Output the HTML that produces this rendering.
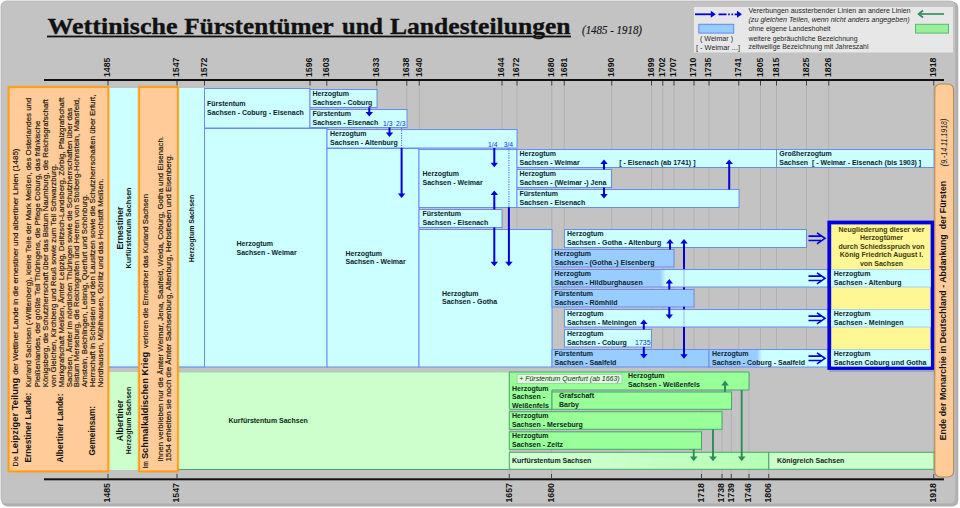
<!DOCTYPE html><html><head><meta charset="utf-8"><title>Wettinische Fürstentümer und Landesteilungen</title>
<style>html,body{margin:0;padding:0;background:#fff;}svg{display:block}text{white-space:pre}</style></head><body>
<svg width="960" height="508" viewBox="0 0 960 508">
<defs>
<filter id="glow" x="-10%" y="-10%" width="120%" height="120%"><feGaussianBlur stdDeviation="1.2"/></filter>
<linearGradient id="gH" x1="0" x2="1"><stop offset="0" stop-color="#99ccff"/><stop offset="1" stop-color="#ccffff"/></linearGradient>
<linearGradient id="gK" x1="0" x2="1"><stop offset="0" stop-color="#d6ffd6"/><stop offset="1" stop-color="#b4ffb4"/></linearGradient>
</defs>
<rect x="0" y="0" width="960.00" height="508.00" fill="#fff" />
<rect x="1.5" y="1.5" width="956.8" height="505" rx="6" fill="#b0b0b0"/>
<rect x="1" y="1" width="954.5" height="502.7" rx="5.5" fill="#c3c3c3" stroke="#b4b4b4" stroke-width="0.8"/>
<text x="47.5" y="33.8" font-size="24" font-weight="bold" font-style="normal" fill="#111" text-anchor="start" font-family="'Liberation Serif', sans-serif" textLength="130" lengthAdjust="spacingAndGlyphs" stroke="#111" stroke-width="0.35">Wettinische</text>
<text x="184.3" y="33.8" font-size="24" font-weight="bold" font-style="normal" fill="#111" text-anchor="start" font-family="'Liberation Serif', sans-serif" textLength="149.5" lengthAdjust="spacingAndGlyphs" stroke="#111" stroke-width="0.35">Fürstentümer</text>
<text x="342" y="33.8" font-size="24" font-weight="bold" font-style="normal" fill="#111" text-anchor="start" font-family="'Liberation Serif', sans-serif" textLength="41" lengthAdjust="spacingAndGlyphs" stroke="#111" stroke-width="0.35">und</text>
<text x="390" y="33.8" font-size="24" font-weight="bold" font-style="normal" fill="#111" text-anchor="start" font-family="'Liberation Serif', sans-serif" textLength="180.5" lengthAdjust="spacingAndGlyphs" stroke="#111" stroke-width="0.35">Landesteilungen</text>
<rect x="47" y="35.6" width="524.00" height="1.80" fill="#111" />
<text x="582" y="34" font-size="11.8" font-weight="normal" font-style="italic" fill="#1a1a1a" text-anchor="start" font-family="'Liberation Serif', sans-serif" textLength="60" lengthAdjust="spacingAndGlyphs" stroke="#1a1a1a" stroke-width="0.2">(1485 - 1918)</text>
<rect x="694" y="7" width="259.00" height="45.50" fill="#e7e7e7" />
<line x1="695" y1="14.3" x2="712" y2="14.3" stroke="#0000dd" stroke-width="1.8" />
<path d="M710.8,10.8 L715.8,14.3 L710.8,17.8 Z" fill="#0000dd"/>
<path d="M718.5,14.3 H726.5 M728.2,14.3 H729.8 M731.5,14.3 H733.1 M734.6,14.3 H738" stroke="#0000dd" stroke-width="1.8" fill="none"/>
<path d="M737,10.8 L742,14.3 L737,17.8 Z" fill="#0000dd"/>
<line x1="920" y1="14" x2="944" y2="14" stroke="#2e8b57" stroke-width="1.6" />
<path d="M923,10.5 L918.5,14 L923,17.5" fill="none" stroke="#2e8b57" stroke-width="1.6"/>
<rect x="698.8" y="24.3" width="34.90" height="8.80" fill="#99ccff" stroke="#5b8cf0" stroke-width="1" />
<rect x="915.5" y="24.3" width="33.00" height="8.80" fill="#99ee99" stroke="#55bb77" stroke-width="1" />
<text x="748.5" y="13.2" font-size="7.4" font-weight="normal" font-style="normal" fill="#262626" text-anchor="start" font-family="'Liberation Sans', sans-serif" textLength="162" lengthAdjust="spacingAndGlyphs" >Vererbungen aussterbender Linien an andere Linien</text>
<text x="748.5" y="22" font-size="7.4" font-weight="normal" font-style="italic" fill="#262626" text-anchor="start" font-family="'Liberation Sans', sans-serif" textLength="161" lengthAdjust="spacingAndGlyphs" >(zu gleichen Teilen, wenn nicht anders angegeben)</text>
<text x="748.5" y="31.3" font-size="7.4" font-weight="normal" font-style="normal" fill="#262626" text-anchor="start" font-family="'Liberation Sans', sans-serif" textLength="82" lengthAdjust="spacingAndGlyphs" >ohne eigene Landeshoheit</text>
<text x="748.5" y="41" font-size="7.4" font-weight="normal" font-style="normal" fill="#262626" text-anchor="start" font-family="'Liberation Sans', sans-serif" textLength="109" lengthAdjust="spacingAndGlyphs" >weitere gebräuchliche Bezeichnung</text>
<text x="748.5" y="49.1" font-size="7.4" font-weight="normal" font-style="normal" fill="#262626" text-anchor="start" font-family="'Liberation Sans', sans-serif" textLength="120" lengthAdjust="spacingAndGlyphs" >zeitweilige Bezeichnung mit Jahreszahl</text>
<text x="700" y="41" font-size="7.4" font-weight="normal" font-style="normal" fill="#262626" text-anchor="start" font-family="'Liberation Sans', sans-serif" textLength="33" lengthAdjust="spacingAndGlyphs" >( Weimar )</text>
<text x="696" y="49.5" font-size="7.4" font-weight="normal" font-style="normal" fill="#262626" text-anchor="start" font-family="'Liberation Sans', sans-serif" textLength="44" lengthAdjust="spacingAndGlyphs" >[ - Weimar ...]</text>
<line x1="108" y1="81" x2="108" y2="367.5" stroke="#b1b1b1" stroke-width="1" />
<line x1="177" y1="81" x2="177" y2="367.5" stroke="#b1b1b1" stroke-width="1" />
<line x1="204.5" y1="81" x2="204.5" y2="367.5" stroke="#b1b1b1" stroke-width="1" />
<line x1="310" y1="81" x2="310" y2="367.5" stroke="#b1b1b1" stroke-width="1" />
<line x1="326.75" y1="81" x2="326.75" y2="367.5" stroke="#b1b1b1" stroke-width="1" />
<line x1="376.75" y1="81" x2="376.75" y2="367.5" stroke="#b1b1b1" stroke-width="1" />
<line x1="406.75" y1="81" x2="406.75" y2="367.5" stroke="#b1b1b1" stroke-width="1" />
<line x1="419.25" y1="81" x2="419.25" y2="367.5" stroke="#b1b1b1" stroke-width="1" />
<line x1="502" y1="81" x2="502" y2="367.5" stroke="#b1b1b1" stroke-width="1" />
<line x1="517" y1="81" x2="517" y2="367.5" stroke="#b1b1b1" stroke-width="1" />
<line x1="551.75" y1="81" x2="551.75" y2="367.5" stroke="#b1b1b1" stroke-width="1" />
<line x1="564.25" y1="81" x2="564.25" y2="367.5" stroke="#b1b1b1" stroke-width="1" />
<line x1="611.75" y1="81" x2="611.75" y2="367.5" stroke="#b1b1b1" stroke-width="1" />
<line x1="651.5" y1="81" x2="651.5" y2="367.5" stroke="#b1b1b1" stroke-width="1" />
<line x1="662.75" y1="81" x2="662.75" y2="367.5" stroke="#b1b1b1" stroke-width="1" />
<line x1="674" y1="81" x2="674" y2="367.5" stroke="#b1b1b1" stroke-width="1" />
<line x1="694" y1="81" x2="694" y2="367.5" stroke="#b1b1b1" stroke-width="1" />
<line x1="709" y1="81" x2="709" y2="367.5" stroke="#b1b1b1" stroke-width="1" />
<line x1="738.75" y1="81" x2="738.75" y2="367.5" stroke="#b1b1b1" stroke-width="1" />
<line x1="760.5" y1="81" x2="760.5" y2="367.5" stroke="#b1b1b1" stroke-width="1" />
<line x1="776.5" y1="81" x2="776.5" y2="367.5" stroke="#b1b1b1" stroke-width="1" />
<line x1="806.5" y1="81" x2="806.5" y2="367.5" stroke="#b1b1b1" stroke-width="1" />
<line x1="828.75" y1="81" x2="828.75" y2="367.5" stroke="#b1b1b1" stroke-width="1" />
<line x1="933.75" y1="81" x2="933.75" y2="367.5" stroke="#b1b1b1" stroke-width="1" />
<line x1="108" y1="372" x2="108" y2="478" stroke="#b1b1b1" stroke-width="1" />
<line x1="177" y1="372" x2="177" y2="478" stroke="#b1b1b1" stroke-width="1" />
<line x1="509.25" y1="372" x2="509.25" y2="478" stroke="#b1b1b1" stroke-width="1" />
<line x1="551.5" y1="372" x2="551.5" y2="478" stroke="#b1b1b1" stroke-width="1" />
<line x1="701.5" y1="372" x2="701.5" y2="478" stroke="#b1b1b1" stroke-width="1" />
<line x1="722" y1="372" x2="722" y2="478" stroke="#b1b1b1" stroke-width="1" />
<line x1="731.25" y1="372" x2="731.25" y2="478" stroke="#b1b1b1" stroke-width="1" />
<line x1="749" y1="372" x2="749" y2="478" stroke="#b1b1b1" stroke-width="1" />
<line x1="768.75" y1="452" x2="768.75" y2="478" stroke="#b1b1b1" stroke-width="1" />
<line x1="933.75" y1="372" x2="933.75" y2="478" stroke="#b1b1b1" stroke-width="1" />
<rect x="44" y="79" width="900.00" height="2.00" fill="#111" />
<rect x="44" y="478.3" width="900.00" height="2.00" fill="#111" />
<line x1="108" y1="81" x2="108" y2="85.5" stroke="#444" stroke-width="1" />
<text transform="translate(110.37,77) rotate(-90)" font-size="8.8" font-weight="bold" font-style="normal" fill="#111" text-anchor="start" font-family="'Liberation Sans', sans-serif" textLength="19.5" lengthAdjust="spacingAndGlyphs">1485</text>
<line x1="177" y1="81" x2="177" y2="85.5" stroke="#444" stroke-width="1" />
<text transform="translate(179.37,77) rotate(-90)" font-size="8.8" font-weight="bold" font-style="normal" fill="#111" text-anchor="start" font-family="'Liberation Sans', sans-serif" textLength="19.5" lengthAdjust="spacingAndGlyphs">1547</text>
<line x1="204.5" y1="81" x2="204.5" y2="85.5" stroke="#444" stroke-width="1" />
<text transform="translate(206.87,77) rotate(-90)" font-size="8.8" font-weight="bold" font-style="normal" fill="#111" text-anchor="start" font-family="'Liberation Sans', sans-serif" textLength="19.5" lengthAdjust="spacingAndGlyphs">1572</text>
<line x1="310" y1="81" x2="310" y2="85.5" stroke="#444" stroke-width="1" />
<text transform="translate(312.37,77) rotate(-90)" font-size="8.8" font-weight="bold" font-style="normal" fill="#111" text-anchor="start" font-family="'Liberation Sans', sans-serif" textLength="19.5" lengthAdjust="spacingAndGlyphs">1596</text>
<line x1="326.75" y1="81" x2="326.75" y2="85.5" stroke="#444" stroke-width="1" />
<text transform="translate(329.12,77) rotate(-90)" font-size="8.8" font-weight="bold" font-style="normal" fill="#111" text-anchor="start" font-family="'Liberation Sans', sans-serif" textLength="19.5" lengthAdjust="spacingAndGlyphs">1603</text>
<line x1="376.75" y1="81" x2="376.75" y2="85.5" stroke="#444" stroke-width="1" />
<text transform="translate(379.12,77) rotate(-90)" font-size="8.8" font-weight="bold" font-style="normal" fill="#111" text-anchor="start" font-family="'Liberation Sans', sans-serif" textLength="19.5" lengthAdjust="spacingAndGlyphs">1633</text>
<line x1="406.75" y1="81" x2="406.75" y2="85.5" stroke="#444" stroke-width="1" />
<text transform="translate(409.12,77) rotate(-90)" font-size="8.8" font-weight="bold" font-style="normal" fill="#111" text-anchor="start" font-family="'Liberation Sans', sans-serif" textLength="19.5" lengthAdjust="spacingAndGlyphs">1638</text>
<line x1="419.25" y1="81" x2="419.25" y2="85.5" stroke="#444" stroke-width="1" />
<text transform="translate(421.62,77) rotate(-90)" font-size="8.8" font-weight="bold" font-style="normal" fill="#111" text-anchor="start" font-family="'Liberation Sans', sans-serif" textLength="19.5" lengthAdjust="spacingAndGlyphs">1640</text>
<line x1="502" y1="81" x2="502" y2="85.5" stroke="#444" stroke-width="1" />
<text transform="translate(504.37,77) rotate(-90)" font-size="8.8" font-weight="bold" font-style="normal" fill="#111" text-anchor="start" font-family="'Liberation Sans', sans-serif" textLength="19.5" lengthAdjust="spacingAndGlyphs">1644</text>
<line x1="517" y1="81" x2="517" y2="85.5" stroke="#444" stroke-width="1" />
<text transform="translate(519.37,77) rotate(-90)" font-size="8.8" font-weight="bold" font-style="normal" fill="#111" text-anchor="start" font-family="'Liberation Sans', sans-serif" textLength="19.5" lengthAdjust="spacingAndGlyphs">1672</text>
<line x1="551.75" y1="81" x2="551.75" y2="85.5" stroke="#444" stroke-width="1" />
<text transform="translate(554.12,77) rotate(-90)" font-size="8.8" font-weight="bold" font-style="normal" fill="#111" text-anchor="start" font-family="'Liberation Sans', sans-serif" textLength="19.5" lengthAdjust="spacingAndGlyphs">1680</text>
<line x1="564.25" y1="81" x2="564.25" y2="85.5" stroke="#444" stroke-width="1" />
<text transform="translate(566.62,77) rotate(-90)" font-size="8.8" font-weight="bold" font-style="normal" fill="#111" text-anchor="start" font-family="'Liberation Sans', sans-serif" textLength="19.5" lengthAdjust="spacingAndGlyphs">1681</text>
<line x1="611.75" y1="81" x2="611.75" y2="85.5" stroke="#444" stroke-width="1" />
<text transform="translate(614.12,77) rotate(-90)" font-size="8.8" font-weight="bold" font-style="normal" fill="#111" text-anchor="start" font-family="'Liberation Sans', sans-serif" textLength="19.5" lengthAdjust="spacingAndGlyphs">1690</text>
<line x1="651.5" y1="81" x2="651.5" y2="85.5" stroke="#444" stroke-width="1" />
<text transform="translate(653.87,77) rotate(-90)" font-size="8.8" font-weight="bold" font-style="normal" fill="#111" text-anchor="start" font-family="'Liberation Sans', sans-serif" textLength="19.5" lengthAdjust="spacingAndGlyphs">1699</text>
<line x1="662.75" y1="81" x2="662.75" y2="85.5" stroke="#444" stroke-width="1" />
<text transform="translate(665.12,77) rotate(-90)" font-size="8.8" font-weight="bold" font-style="normal" fill="#111" text-anchor="start" font-family="'Liberation Sans', sans-serif" textLength="19.5" lengthAdjust="spacingAndGlyphs">1702</text>
<line x1="674" y1="81" x2="674" y2="85.5" stroke="#444" stroke-width="1" />
<text transform="translate(676.37,77) rotate(-90)" font-size="8.8" font-weight="bold" font-style="normal" fill="#111" text-anchor="start" font-family="'Liberation Sans', sans-serif" textLength="19.5" lengthAdjust="spacingAndGlyphs">1707</text>
<line x1="694" y1="81" x2="694" y2="85.5" stroke="#444" stroke-width="1" />
<text transform="translate(696.37,77) rotate(-90)" font-size="8.8" font-weight="bold" font-style="normal" fill="#111" text-anchor="start" font-family="'Liberation Sans', sans-serif" textLength="19.5" lengthAdjust="spacingAndGlyphs">1710</text>
<line x1="709" y1="81" x2="709" y2="85.5" stroke="#444" stroke-width="1" />
<text transform="translate(711.37,77) rotate(-90)" font-size="8.8" font-weight="bold" font-style="normal" fill="#111" text-anchor="start" font-family="'Liberation Sans', sans-serif" textLength="19.5" lengthAdjust="spacingAndGlyphs">1735</text>
<line x1="738.75" y1="81" x2="738.75" y2="85.5" stroke="#444" stroke-width="1" />
<text transform="translate(741.12,77) rotate(-90)" font-size="8.8" font-weight="bold" font-style="normal" fill="#111" text-anchor="start" font-family="'Liberation Sans', sans-serif" textLength="19.5" lengthAdjust="spacingAndGlyphs">1741</text>
<line x1="760.5" y1="81" x2="760.5" y2="85.5" stroke="#444" stroke-width="1" />
<text transform="translate(762.87,77) rotate(-90)" font-size="8.8" font-weight="bold" font-style="normal" fill="#111" text-anchor="start" font-family="'Liberation Sans', sans-serif" textLength="19.5" lengthAdjust="spacingAndGlyphs">1805</text>
<line x1="776.5" y1="81" x2="776.5" y2="85.5" stroke="#444" stroke-width="1" />
<text transform="translate(778.87,77) rotate(-90)" font-size="8.8" font-weight="bold" font-style="normal" fill="#111" text-anchor="start" font-family="'Liberation Sans', sans-serif" textLength="19.5" lengthAdjust="spacingAndGlyphs">1815</text>
<line x1="806.5" y1="81" x2="806.5" y2="85.5" stroke="#444" stroke-width="1" />
<text transform="translate(808.87,77) rotate(-90)" font-size="8.8" font-weight="bold" font-style="normal" fill="#111" text-anchor="start" font-family="'Liberation Sans', sans-serif" textLength="19.5" lengthAdjust="spacingAndGlyphs">1825</text>
<line x1="828.75" y1="81" x2="828.75" y2="85.5" stroke="#444" stroke-width="1" />
<text transform="translate(831.12,77) rotate(-90)" font-size="8.8" font-weight="bold" font-style="normal" fill="#111" text-anchor="start" font-family="'Liberation Sans', sans-serif" textLength="19.5" lengthAdjust="spacingAndGlyphs">1826</text>
<line x1="933.75" y1="81" x2="933.75" y2="85.5" stroke="#444" stroke-width="1" />
<text transform="translate(936.12,77) rotate(-90)" font-size="8.8" font-weight="bold" font-style="normal" fill="#111" text-anchor="start" font-family="'Liberation Sans', sans-serif" textLength="19.5" lengthAdjust="spacingAndGlyphs">1918</text>
<line x1="108" y1="474" x2="108" y2="478.3" stroke="#444" stroke-width="1" />
<text transform="translate(110.37,502.6) rotate(-90)" font-size="8.8" font-weight="bold" font-style="normal" fill="#111" text-anchor="start" font-family="'Liberation Sans', sans-serif" textLength="19.5" lengthAdjust="spacingAndGlyphs">1485</text>
<line x1="177" y1="474" x2="177" y2="478.3" stroke="#444" stroke-width="1" />
<text transform="translate(179.37,502.6) rotate(-90)" font-size="8.8" font-weight="bold" font-style="normal" fill="#111" text-anchor="start" font-family="'Liberation Sans', sans-serif" textLength="19.5" lengthAdjust="spacingAndGlyphs">1547</text>
<line x1="509.25" y1="474" x2="509.25" y2="478.3" stroke="#444" stroke-width="1" />
<text transform="translate(511.62,502.6) rotate(-90)" font-size="8.8" font-weight="bold" font-style="normal" fill="#111" text-anchor="start" font-family="'Liberation Sans', sans-serif" textLength="19.5" lengthAdjust="spacingAndGlyphs">1657</text>
<line x1="551.5" y1="474" x2="551.5" y2="478.3" stroke="#444" stroke-width="1" />
<text transform="translate(553.87,502.6) rotate(-90)" font-size="8.8" font-weight="bold" font-style="normal" fill="#111" text-anchor="start" font-family="'Liberation Sans', sans-serif" textLength="19.5" lengthAdjust="spacingAndGlyphs">1680</text>
<line x1="701.5" y1="474" x2="701.5" y2="478.3" stroke="#444" stroke-width="1" />
<text transform="translate(703.87,502.6) rotate(-90)" font-size="8.8" font-weight="bold" font-style="normal" fill="#111" text-anchor="start" font-family="'Liberation Sans', sans-serif" textLength="19.5" lengthAdjust="spacingAndGlyphs">1718</text>
<line x1="722" y1="474" x2="722" y2="478.3" stroke="#444" stroke-width="1" />
<text transform="translate(724.37,502.6) rotate(-90)" font-size="8.8" font-weight="bold" font-style="normal" fill="#111" text-anchor="start" font-family="'Liberation Sans', sans-serif" textLength="19.5" lengthAdjust="spacingAndGlyphs">1738</text>
<line x1="731.25" y1="474" x2="731.25" y2="478.3" stroke="#444" stroke-width="1" />
<text transform="translate(733.62,502.6) rotate(-90)" font-size="8.8" font-weight="bold" font-style="normal" fill="#111" text-anchor="start" font-family="'Liberation Sans', sans-serif" textLength="19.5" lengthAdjust="spacingAndGlyphs">1739</text>
<line x1="749" y1="474" x2="749" y2="478.3" stroke="#444" stroke-width="1" />
<text transform="translate(751.37,502.6) rotate(-90)" font-size="8.8" font-weight="bold" font-style="normal" fill="#111" text-anchor="start" font-family="'Liberation Sans', sans-serif" textLength="19.5" lengthAdjust="spacingAndGlyphs">1746</text>
<line x1="768.75" y1="474" x2="768.75" y2="478.3" stroke="#444" stroke-width="1" />
<text transform="translate(771.12,502.6) rotate(-90)" font-size="8.8" font-weight="bold" font-style="normal" fill="#111" text-anchor="start" font-family="'Liberation Sans', sans-serif" textLength="19.5" lengthAdjust="spacingAndGlyphs">1806</text>
<line x1="933.75" y1="474" x2="933.75" y2="478.3" stroke="#444" stroke-width="1" />
<text transform="translate(936.12,502.6) rotate(-90)" font-size="8.8" font-weight="bold" font-style="normal" fill="#111" text-anchor="start" font-family="'Liberation Sans', sans-serif" textLength="19.5" lengthAdjust="spacingAndGlyphs">1918</text>
<rect x="108" y="88" width="32.00" height="279.00" fill="#ccffff" />
<line x1="108" y1="367" x2="140" y2="367" stroke="#6a8cf2" stroke-width="1.2" />
<rect x="177" y="88" width="27.50" height="279.00" fill="#ccffff" />
<line x1="177" y1="367" x2="204.5" y2="367" stroke="#6a8cf2" stroke-width="1.2" />
<rect x="204.5" y="88.5" width="105.50" height="39.50" fill="#ccffff" stroke="#6a8cf2" stroke-width="1" />
<text x="207" y="106.3" font-size="7" font-weight="bold" font-style="normal" fill="#0a2530" text-anchor="start" font-family="'Liberation Sans', sans-serif" >Fürstentum</text>
<text x="207" y="114.8" font-size="7" font-weight="bold" font-style="normal" fill="#0a2530" text-anchor="start" font-family="'Liberation Sans', sans-serif" >Sachsen - Coburg - Eisenach</text>
<rect x="310" y="89.5" width="67.00" height="18.00" fill="#ccffff" stroke="#6a8cf2" stroke-width="1" />
<text x="312.5" y="96.3" font-size="7" font-weight="bold" font-style="normal" fill="#0a2530" text-anchor="start" font-family="'Liberation Sans', sans-serif" >Herzogtum</text>
<text x="312.5" y="104.8" font-size="7" font-weight="bold" font-style="normal" fill="#0a2530" text-anchor="start" font-family="'Liberation Sans', sans-serif" >Sachsen - Coburg</text>
<rect x="310" y="109.5" width="97.00" height="18.00" fill="#ccffff" stroke="#6a8cf2" stroke-width="1" />
<text x="312.5" y="116.3" font-size="7" font-weight="bold" font-style="normal" fill="#0a2530" text-anchor="start" font-family="'Liberation Sans', sans-serif" >Fürstentum</text>
<text x="312.5" y="124.8" font-size="7" font-weight="bold" font-style="normal" fill="#0a2530" text-anchor="start" font-family="'Liberation Sans', sans-serif" >Sachsen - Eisenach</text>
<text x="383" y="126" font-size="6.8" font-weight="normal" font-style="normal" fill="#1133dd" text-anchor="start" font-family="'Liberation Sans', sans-serif" >1/3</text>
<text x="396" y="126" font-size="6.8" font-weight="normal" font-style="normal" fill="#1133dd" text-anchor="start" font-family="'Liberation Sans', sans-serif" >2/3</text>
<rect x="204.5" y="128.5" width="122.50" height="238.50" fill="#ccffff" stroke="#6a8cf2" stroke-width="1" />
<text x="236.5" y="246.20000000000002" font-size="7" font-weight="bold" font-style="normal" fill="#0a2530" text-anchor="start" font-family="'Liberation Sans', sans-serif" >Herzogtum</text>
<text x="236.5" y="254.70000000000002" font-size="7" font-weight="bold" font-style="normal" fill="#0a2530" text-anchor="start" font-family="'Liberation Sans', sans-serif" >Sachsen - Weimar</text>
<rect x="327" y="148.5" width="92.00" height="218.50" fill="#ccffff" stroke="#6a8cf2" stroke-width="1" />
<text x="345.5" y="255.9" font-size="7" font-weight="bold" font-style="normal" fill="#0a2530" text-anchor="start" font-family="'Liberation Sans', sans-serif" >Herzogtum</text>
<text x="345.5" y="264.4" font-size="7" font-weight="bold" font-style="normal" fill="#0a2530" text-anchor="start" font-family="'Liberation Sans', sans-serif" >Sachsen - Weimar</text>
<rect x="327" y="129.5" width="190.00" height="18.50" fill="#ccffff" stroke="#6a8cf2" stroke-width="1" />
<text x="330" y="136.3" font-size="7" font-weight="bold" font-style="normal" fill="#0a2530" text-anchor="start" font-family="'Liberation Sans', sans-serif" >Herzogtum</text>
<text x="330" y="144.8" font-size="7" font-weight="bold" font-style="normal" fill="#0a2530" text-anchor="start" font-family="'Liberation Sans', sans-serif" >Sachsen - Altenburg</text>
<text x="488" y="146.6" font-size="6.8" font-weight="normal" font-style="normal" fill="#1133dd" text-anchor="start" font-family="'Liberation Sans', sans-serif" >1/4</text>
<text x="503.7" y="146.6" font-size="6.8" font-weight="normal" font-style="normal" fill="#1133dd" text-anchor="start" font-family="'Liberation Sans', sans-serif" >3/4</text>
<rect x="419" y="149.5" width="98.00" height="58.00" fill="#ccffff" stroke="#6a8cf2" stroke-width="1" />
<text x="422.5" y="176.3" font-size="7" font-weight="bold" font-style="normal" fill="#0a2530" text-anchor="start" font-family="'Liberation Sans', sans-serif" >Herzogtum</text>
<text x="422.5" y="184.8" font-size="7" font-weight="bold" font-style="normal" fill="#0a2530" text-anchor="start" font-family="'Liberation Sans', sans-serif" >Sachsen - Weimar</text>
<rect x="419" y="229.5" width="133.00" height="137.50" fill="#ccffff" stroke="#6a8cf2" stroke-width="1" />
<text x="442" y="295.8" font-size="7" font-weight="bold" font-style="normal" fill="#0a2530" text-anchor="start" font-family="'Liberation Sans', sans-serif" >Herzogtum</text>
<text x="442" y="304.3" font-size="7" font-weight="bold" font-style="normal" fill="#0a2530" text-anchor="start" font-family="'Liberation Sans', sans-serif" >Sachsen - Gotha</text>
<rect x="419" y="209.5" width="83.00" height="18.00" fill="#ccffff" stroke="#6a8cf2" stroke-width="1" />
<text x="422.5" y="216.3" font-size="7" font-weight="bold" font-style="normal" fill="#0a2530" text-anchor="start" font-family="'Liberation Sans', sans-serif" >Fürstentum</text>
<text x="422.5" y="224.8" font-size="7" font-weight="bold" font-style="normal" fill="#0a2530" text-anchor="start" font-family="'Liberation Sans', sans-serif" >Sachsen - Eisenach</text>
<rect x="517" y="149.5" width="259.50" height="18.00" fill="#ccffff" stroke="#6a8cf2" stroke-width="1" />
<text x="519.5" y="156.3" font-size="7" font-weight="bold" font-style="normal" fill="#0a2530" text-anchor="start" font-family="'Liberation Sans', sans-serif" >Herzogtum</text>
<text x="519.5" y="164.8" font-size="7" font-weight="bold" font-style="normal" fill="#0a2530" text-anchor="start" font-family="'Liberation Sans', sans-serif" >Sachsen - Weimar</text>
<text x="619.2" y="164.8" font-size="7" font-weight="bold" font-style="normal" fill="#0a2530" text-anchor="start" font-family="'Liberation Sans', sans-serif" textLength="76.3" lengthAdjust="spacingAndGlyphs" >[ - Eisenach (ab 1741) ]</text>
<rect x="776.5" y="149.5" width="157.50" height="18.00" fill="#ccffff" stroke="#6a8cf2" stroke-width="1" />
<text x="779.3" y="156.3" font-size="7" font-weight="bold" font-style="normal" fill="#0a2530" text-anchor="start" font-family="'Liberation Sans', sans-serif" >Großherzogtum</text>
<text x="779.3" y="164.8" font-size="7" font-weight="bold" font-style="normal" fill="#0a2530" text-anchor="start" font-family="'Liberation Sans', sans-serif" >Sachsen  [ - Weimar - Eisenach (bis 1903) ]</text>
<rect x="517" y="169.5" width="94.50" height="18.00" fill="#ccffff" stroke="#6a8cf2" stroke-width="1" />
<text x="519.5" y="176.3" font-size="7" font-weight="bold" font-style="normal" fill="#0a2530" text-anchor="start" font-family="'Liberation Sans', sans-serif" >Herzogtum</text>
<text x="519.5" y="184.8" font-size="7" font-weight="bold" font-style="normal" fill="#0a2530" text-anchor="start" font-family="'Liberation Sans', sans-serif" >Sachsen - (Weimar -) Jena</text>
<rect x="517" y="189.5" width="222.00" height="18.00" fill="#ccffff" stroke="#6a8cf2" stroke-width="1" />
<text x="519.5" y="196.3" font-size="7" font-weight="bold" font-style="normal" fill="#0a2530" text-anchor="start" font-family="'Liberation Sans', sans-serif" >Fürstentum</text>
<text x="519.5" y="204.8" font-size="7" font-weight="bold" font-style="normal" fill="#0a2530" text-anchor="start" font-family="'Liberation Sans', sans-serif" >Sachsen - Eisenach</text>
<rect x="564.5" y="229.5" width="242.00" height="18.00" fill="#ccffff" stroke="#6a8cf2" stroke-width="1" />
<text x="567" y="236.3" font-size="7" font-weight="bold" font-style="normal" fill="#0a2530" text-anchor="start" font-family="'Liberation Sans', sans-serif" >Herzogtum</text>
<text x="567" y="244.8" font-size="7" font-weight="bold" font-style="normal" fill="#0a2530" text-anchor="start" font-family="'Liberation Sans', sans-serif" >Sachsen - Gotha - Altenburg</text>
<rect x="552" y="249.5" width="122.00" height="17.50" fill="#99ccff" stroke="#6a8cf2" stroke-width="1" />
<text x="554.5" y="256.3" font-size="7" font-weight="bold" font-style="normal" fill="#0a2530" text-anchor="start" font-family="'Liberation Sans', sans-serif" >Herzogtum</text>
<text x="554.5" y="264.8" font-size="7" font-weight="bold" font-style="normal" fill="#0a2530" text-anchor="start" font-family="'Liberation Sans', sans-serif" >Sachsen - (Gotha -) Eisenberg</text>
<rect x="552" y="269.5" width="276.00" height="17.50" fill="#ccffff" />
<rect x="552" y="269.5" width="108.00" height="17.50" fill="#99ccff" />
<rect x="660" y="269.5" width="6.00" height="17.50" fill="url(#gH)" />
<rect x="552" y="269.5" width="276.00" height="17.50" fill="none" stroke="#6a8cf2" stroke-width="1" />
<text x="554.5" y="276.3" font-size="7" font-weight="bold" font-style="normal" fill="#0a2530" text-anchor="start" font-family="'Liberation Sans', sans-serif" >Herzogtum</text>
<text x="554.5" y="284.8" font-size="7" font-weight="bold" font-style="normal" fill="#0a2530" text-anchor="start" font-family="'Liberation Sans', sans-serif" >Sachsen - Hildburghausen</text>
<rect x="552" y="289.5" width="142.00" height="17.50" fill="#99ccff" stroke="#6a8cf2" stroke-width="1" />
<text x="554.5" y="296.3" font-size="7" font-weight="bold" font-style="normal" fill="#0a2530" text-anchor="start" font-family="'Liberation Sans', sans-serif" >Fürstentum</text>
<text x="554.5" y="304.8" font-size="7" font-weight="bold" font-style="normal" fill="#0a2530" text-anchor="start" font-family="'Liberation Sans', sans-serif" >Sachsen - Römhild</text>
<rect x="564.5" y="309.5" width="263.50" height="17.50" fill="#ccffff" stroke="#6a8cf2" stroke-width="1" />
<text x="567" y="316.3" font-size="7" font-weight="bold" font-style="normal" fill="#0a2530" text-anchor="start" font-family="'Liberation Sans', sans-serif" >Herzogtum</text>
<text x="567" y="324.8" font-size="7" font-weight="bold" font-style="normal" fill="#0a2530" text-anchor="start" font-family="'Liberation Sans', sans-serif" >Sachsen - Meiningen</text>
<rect x="564.5" y="329.5" width="87.00" height="17.50" fill="#ccffff" stroke="#6a8cf2" stroke-width="1" />
<text x="567" y="336.3" font-size="7" font-weight="bold" font-style="normal" fill="#0a2530" text-anchor="start" font-family="'Liberation Sans', sans-serif" >Herzogtum</text>
<text x="567" y="344.8" font-size="7" font-weight="bold" font-style="normal" fill="#0a2530" text-anchor="start" font-family="'Liberation Sans', sans-serif" >Sachsen - Coburg</text>
<text x="635" y="345.3" font-size="7" font-weight="normal" font-style="normal" fill="#1133cc" text-anchor="start" font-family="'Liberation Sans', sans-serif" >1735</text>
<rect x="552" y="349.5" width="157.00" height="17.50" fill="#99ccff" stroke="#6a8cf2" stroke-width="1" />
<text x="554.5" y="356.3" font-size="7" font-weight="bold" font-style="normal" fill="#0a2530" text-anchor="start" font-family="'Liberation Sans', sans-serif" >Fürstentum</text>
<text x="554.5" y="364.8" font-size="7" font-weight="bold" font-style="normal" fill="#0a2530" text-anchor="start" font-family="'Liberation Sans', sans-serif" >Sachsen - Saalfeld</text>
<rect x="709" y="349.5" width="119.00" height="17.50" fill="#ccffff" />
<rect x="709" y="349.5" width="48.00" height="17.50" fill="#99ccff" />
<rect x="757" y="349.5" width="5.00" height="17.50" fill="url(#gH)" />
<rect x="709" y="349.5" width="119.00" height="17.50" fill="none" stroke="#6a8cf2" stroke-width="1" />
<text x="712" y="356.3" font-size="7" font-weight="bold" font-style="normal" fill="#0a2530" text-anchor="start" font-family="'Liberation Sans', sans-serif" >Herzogtum</text>
<text x="712" y="364.8" font-size="7" font-weight="bold" font-style="normal" fill="#0a2530" text-anchor="start" font-family="'Liberation Sans', sans-serif" >Sachsen - Coburg - Saalfeld</text>
<line x1="369.3" y1="107.5" x2="369.3" y2="112.98" stroke="#0000dd" stroke-width="2" />
<path d="M365.60,112.10 L369.3,116.5 L373.00,112.10 Z" fill="#0000dd"/>
<line x1="389.5" y1="127.5" x2="389.5" y2="133.48" stroke="#0000dd" stroke-width="2" />
<path d="M385.80,132.60 L389.5,137 L393.20,132.60 Z" fill="#0000dd"/>
<line x1="401.6" y1="128" x2="401.6" y2="148" stroke="#4a6af0" stroke-width="1.1" stroke-dasharray="1.2 1.2"/>
<line x1="401.6" y1="148" x2="401.6" y2="194.48" stroke="#0000dd" stroke-width="2" />
<path d="M397.90,193.60 L401.6,198 L405.30,193.60 Z" fill="#0000dd"/>
<line x1="494.3" y1="148" x2="494.3" y2="163.67999999999998" stroke="#0000dd" stroke-width="2" />
<path d="M490.60,162.80 L494.3,167.2 L498.00,162.80 Z" fill="#0000dd"/>
<line x1="494.3" y1="209.5" x2="494.3" y2="194.12" stroke="#0000dd" stroke-width="2" />
<path d="M490.60,195.00 L494.3,190.6 L498.00,195.00 Z" fill="#0000dd"/>
<line x1="494.3" y1="227.5" x2="494.3" y2="262.68" stroke="#0000dd" stroke-width="2" />
<path d="M490.60,261.80 L494.3,266.2 L498.00,261.80 Z" fill="#0000dd"/>
<line x1="508.9" y1="148" x2="508.9" y2="207" stroke="#4a6af0" stroke-width="1.1" stroke-dasharray="1.2 1.2"/>
<line x1="508.9" y1="207.3" x2="508.9" y2="262.68" stroke="#0000dd" stroke-width="2" />
<path d="M505.20,261.80 L508.9,266.2 L512.60,261.80 Z" fill="#0000dd"/>
<line x1="604" y1="169.5" x2="604" y2="163.02" stroke="#0000dd" stroke-width="2" />
<path d="M600.30,163.90 L604,159.5 L607.70,163.90 Z" fill="#0000dd"/>
<line x1="604" y1="187.5" x2="604" y2="194.98" stroke="#0000dd" stroke-width="2" />
<path d="M600.30,194.10 L604,198.5 L607.70,194.10 Z" fill="#0000dd"/>
<line x1="729.2" y1="189.5" x2="729.2" y2="163.02" stroke="#0000dd" stroke-width="2" />
<path d="M725.50,163.90 L729.2,159.5 L732.90,163.90 Z" fill="#0000dd"/>
<line x1="670" y1="249.5" x2="670" y2="242.52" stroke="#0000dd" stroke-width="2" />
<path d="M666.30,243.40 L670,239 L673.70,243.40 Z" fill="#0000dd"/>
<line x1="684" y1="242" x2="684" y2="269.3" stroke="#0000dd" stroke-width="2" />
<line x1="684" y1="287.2" x2="684" y2="289.6" stroke="#0000dd" stroke-width="2" />
<line x1="684" y1="306.8" x2="684" y2="309.6" stroke="#0000dd" stroke-width="2" />
<line x1="684" y1="327" x2="684" y2="355" stroke="#0000dd" stroke-width="2" />
<line x1="684" y1="269.5" x2="684" y2="287" stroke="#9fb4f7" stroke-width="1" />
<line x1="684" y1="309.5" x2="684" y2="327" stroke="#9fb4f7" stroke-width="1" />
<path d="M680.30,243.40 L684,239 L687.70,243.40 Z" fill="#0000dd"/>
<path d="M680.30,354.30 L684,358.7 L687.70,354.30 Z" fill="#0000dd"/>
<line x1="669.3" y1="289.5" x2="669.3" y2="282.52" stroke="#0000dd" stroke-width="2" />
<path d="M665.60,283.40 L669.3,279 L673.00,283.40 Z" fill="#0000dd"/>
<line x1="669.3" y1="307" x2="669.3" y2="315.48" stroke="#0000dd" stroke-width="2" />
<path d="M665.60,314.60 L669.3,319 L673.00,314.60 Z" fill="#0000dd"/>
<line x1="643.8" y1="329.5" x2="643.8" y2="323.02" stroke="#0000dd" stroke-width="2" />
<path d="M640.10,323.90 L643.8,319.5 L647.50,323.90 Z" fill="#0000dd"/>
<line x1="643.8" y1="347" x2="643.8" y2="354.98" stroke="#0000dd" stroke-width="2" />
<path d="M640.10,354.10 L643.8,358.5 L647.50,354.10 Z" fill="#0000dd"/>
<path d="M808.5,236.10000000000002 H821 M808.5,240.5 H821 M817,232.8 L825,238.3 L817,243.8" fill="none" stroke="#0000dd" stroke-width="1.6"/>
<path d="M808.5,276.1 H821 M808.5,280.5 H821 M817,272.8 L825,278.3 L817,283.8" fill="none" stroke="#0000dd" stroke-width="1.6"/>
<path d="M808.5,316.1 H821 M808.5,320.5 H821 M817,312.8 L825,318.3 L817,323.8" fill="none" stroke="#0000dd" stroke-width="1.6"/>
<path d="M808.5,356.1 H821 M808.5,360.5 H821 M817,352.8 L825,358.3 L817,363.8" fill="none" stroke="#0000dd" stroke-width="1.6"/>
<rect x="829.5" y="222.5" width="107.00" height="149.50" fill="#7f7fb0" opacity="0.5"/>
<rect x="829.3" y="222.5" width="103.20" height="145.50" fill="#fff694" stroke="#0000e0" stroke-width="3.8" />
<rect x="831.2" y="269.5" width="99.60" height="17.50" fill="#ccffff" />
<line x1="831.2" y1="269.5" x2="930.8" y2="269.5" stroke="#9dc3f5" stroke-width="0.8" />
<line x1="831.2" y1="287" x2="930.8" y2="287" stroke="#9dc3f5" stroke-width="0.8" />
<rect x="831.2" y="309.5" width="99.60" height="17.50" fill="#ccffff" />
<line x1="831.2" y1="309.5" x2="930.8" y2="309.5" stroke="#9dc3f5" stroke-width="0.8" />
<line x1="831.2" y1="327" x2="930.8" y2="327" stroke="#9dc3f5" stroke-width="0.8" />
<rect x="831.2" y="349.5" width="99.60" height="17.10" fill="#ccffff" />
<line x1="831.2" y1="349.5" x2="930.8" y2="349.5" stroke="#9dc3f5" stroke-width="0.8" />
<text x="833.8" y="276.3" font-size="7" font-weight="bold" font-style="normal" fill="#0a2530" text-anchor="start" font-family="'Liberation Sans', sans-serif" >Herzogtum</text>
<text x="833.8" y="284.8" font-size="7" font-weight="bold" font-style="normal" fill="#0a2530" text-anchor="start" font-family="'Liberation Sans', sans-serif" >Sachsen - Altenburg</text>
<text x="833.8" y="316.3" font-size="7" font-weight="bold" font-style="normal" fill="#0a2530" text-anchor="start" font-family="'Liberation Sans', sans-serif" >Herzogtum</text>
<text x="833.8" y="324.8" font-size="7" font-weight="bold" font-style="normal" fill="#0a2530" text-anchor="start" font-family="'Liberation Sans', sans-serif" >Sachsen - Meiningen</text>
<text x="833.8" y="356.3" font-size="7" font-weight="bold" font-style="normal" fill="#0a2530" text-anchor="start" font-family="'Liberation Sans', sans-serif" >Herzogtum</text>
<text x="833.8" y="364.8" font-size="7" font-weight="bold" font-style="normal" fill="#0a2530" text-anchor="start" font-family="'Liberation Sans', sans-serif" >Sachsen Coburg und Gotha</text>
<text x="881.5" y="232.0" font-size="7" font-weight="bold" font-style="normal" fill="#3d3a10" text-anchor="middle" font-family="'Liberation Sans', sans-serif" >Neugliederung dieser vier</text>
<text x="881.5" y="240.4" font-size="7" font-weight="bold" font-style="normal" fill="#3d3a10" text-anchor="middle" font-family="'Liberation Sans', sans-serif" >Herzogtümer</text>
<text x="881.5" y="248.8" font-size="7" font-weight="bold" font-style="normal" fill="#3d3a10" text-anchor="middle" font-family="'Liberation Sans', sans-serif" >durch Schiedsspruch von</text>
<text x="881.5" y="257.2" font-size="7" font-weight="bold" font-style="normal" fill="#3d3a10" text-anchor="middle" font-family="'Liberation Sans', sans-serif" >König Friedrich August I.</text>
<text x="881.5" y="265.6" font-size="7" font-weight="bold" font-style="normal" fill="#3d3a10" text-anchor="middle" font-family="'Liberation Sans', sans-serif" >von Sachsen</text>
<rect x="108" y="372" width="32.00" height="98.00" fill="#ccffcc" />
<rect x="177" y="372" width="332.30" height="97.50" fill="#ccffcc" />
<line x1="177" y1="469.5" x2="509.3" y2="469.5" stroke="#4aa56c" stroke-width="1" />
<line x1="177" y1="372" x2="509.3" y2="372" stroke="#9fd9b0" stroke-width="1" />
<text x="228.5" y="422.6" font-size="7" font-weight="bold" font-style="normal" fill="#0d2a14" text-anchor="start" font-family="'Liberation Sans', sans-serif" >Kurfürstentum Sachsen</text>
<path d="M509.3,372 H749 V390 H552 V409.3 H509.3 Z" fill="#99ff99" stroke="#4aa56c" stroke-width="1"/>
<rect x="517" y="374.3" width="105.00" height="9.20" fill="#dcfcdc" stroke="#9cc8a6" stroke-width="0.8" />
<text x="519.2" y="381.1" font-size="7.4" font-weight="normal" font-style="italic" fill="#1c2c24" text-anchor="start" font-family="'Liberation Sans', sans-serif" textLength="100.5" lengthAdjust="spacingAndGlyphs" >+ Fürstentum Querfurt (ab 1663)</text>
<text x="628" y="378.3" font-size="7" font-weight="bold" font-style="normal" fill="#0d2a14" text-anchor="start" font-family="'Liberation Sans', sans-serif" >Herzogtum</text>
<text x="628" y="386.8" font-size="7" font-weight="bold" font-style="normal" fill="#0d2a14" text-anchor="start" font-family="'Liberation Sans', sans-serif" >Sachsen - Weißenfels</text>
<text x="512" y="390.5" font-size="7" font-weight="bold" font-style="normal" fill="#0d2a14" text-anchor="start" font-family="'Liberation Sans', sans-serif" >Herzogtum</text>
<text x="512" y="399" font-size="7" font-weight="bold" font-style="normal" fill="#0d2a14" text-anchor="start" font-family="'Liberation Sans', sans-serif" >Sachsen -</text>
<text x="512" y="407.5" font-size="7" font-weight="bold" font-style="normal" fill="#0d2a14" text-anchor="start" font-family="'Liberation Sans', sans-serif" >Weißenfels</text>
<rect x="552" y="392" width="179.50" height="17.30" fill="#99ff99" stroke="#4aa56c" stroke-width="1" />
<text x="559" y="398.0" font-size="7" font-weight="bold" font-style="normal" fill="#0d2a14" text-anchor="start" font-family="'Liberation Sans', sans-serif" >Grafschaft</text>
<text x="559" y="406.5" font-size="7" font-weight="bold" font-style="normal" fill="#0d2a14" text-anchor="start" font-family="'Liberation Sans', sans-serif" >Barby</text>
<rect x="509.3" y="411.7" width="212.70" height="17.60" fill="#99ff99" stroke="#4aa56c" stroke-width="1" />
<text x="512" y="418.0" font-size="7" font-weight="bold" font-style="normal" fill="#0d2a14" text-anchor="start" font-family="'Liberation Sans', sans-serif" >Herzogtum</text>
<text x="512" y="426.5" font-size="7" font-weight="bold" font-style="normal" fill="#0d2a14" text-anchor="start" font-family="'Liberation Sans', sans-serif" >Sachsen - Merseburg</text>
<rect x="509.3" y="431.8" width="192.20" height="17.50" fill="#99ff99" stroke="#4aa56c" stroke-width="1" />
<text x="512" y="438.0" font-size="7" font-weight="bold" font-style="normal" fill="#0d2a14" text-anchor="start" font-family="'Liberation Sans', sans-serif" >Herzogtum</text>
<text x="512" y="446.5" font-size="7" font-weight="bold" font-style="normal" fill="#0d2a14" text-anchor="start" font-family="'Liberation Sans', sans-serif" >Sachsen - Zeitz</text>
<rect x="509.3" y="452.3" width="259.50" height="17.00" fill="url(#gK)" stroke="#4aa56c" stroke-width="1" />
<text x="512" y="462.6" font-size="7" font-weight="bold" font-style="normal" fill="#0d2a14" text-anchor="start" font-family="'Liberation Sans', sans-serif" >Kurfürstentum Sachsen</text>
<rect x="768.8" y="452.3" width="165.20" height="17.00" fill="#ccffcc" stroke="#4aa56c" stroke-width="1" />
<text x="777" y="462.6" font-size="7" font-weight="bold" font-style="normal" fill="#0d2a14" text-anchor="start" font-family="'Liberation Sans', sans-serif" >Königreich Sachsen</text>
<line x1="693.7" y1="449.3" x2="693.7" y2="457.36" stroke="#2e8b57" stroke-width="1.9" />
<path d="M689.90,456.40 L693.7,461.2 L697.50,456.40 Z" fill="#2e8b57"/>
<line x1="713" y1="429.3" x2="713" y2="457.36" stroke="#2e8b57" stroke-width="1.9" />
<path d="M709.20,456.40 L713,461.2 L716.80,456.40 Z" fill="#2e8b57"/>
<line x1="741.7" y1="390" x2="741.7" y2="457.36" stroke="#2e8b57" stroke-width="1.9" />
<path d="M737.90,456.40 L741.7,461.2 L745.50,456.40 Z" fill="#2e8b57"/>
<line x1="725" y1="392" x2="725" y2="384.44" stroke="#2e8b57" stroke-width="1.9" />
<path d="M721.20,385.40 L725,380.6 L728.80,385.40 Z" fill="#2e8b57"/>
<text transform="translate(122.62,228) rotate(-90)" font-size="9.5" font-weight="bold" font-style="normal" fill="#111" text-anchor="middle" font-family="'Liberation Sans', sans-serif" textLength="43" lengthAdjust="spacingAndGlyphs">Ernestiner</text>
<text transform="translate(131.02,228) rotate(-90)" font-size="7" font-weight="bold" font-style="normal" fill="#111" text-anchor="middle" font-family="'Liberation Sans', sans-serif" textLength="81" lengthAdjust="spacingAndGlyphs">Kurfürstentum Sachsen</text>
<text transform="translate(123.22,420.5) rotate(-90)" font-size="9.5" font-weight="bold" font-style="normal" fill="#111" text-anchor="middle" font-family="'Liberation Sans', sans-serif" textLength="41.3" lengthAdjust="spacingAndGlyphs">Albertiner</text>
<text transform="translate(131.02,420.5) rotate(-90)" font-size="7" font-weight="bold" font-style="normal" fill="#111" text-anchor="middle" font-family="'Liberation Sans', sans-serif" textLength="67.5" lengthAdjust="spacingAndGlyphs">Herzogtum Sachsen</text>
<text transform="translate(193.52,228.5) rotate(-90)" font-size="7" font-weight="bold" font-style="normal" fill="#111" text-anchor="middle" font-family="'Liberation Sans', sans-serif" textLength="67.5" lengthAdjust="spacingAndGlyphs">Herzogtum Sachsen</text>
<rect x="8.0" y="86.5" width="101.00" height="385.50" fill="#ff9d1a" filter="url(#glow)" opacity="0.9"/>
<rect x="8.7" y="87.2" width="99.60" height="384.10" fill="#ffcc99" stroke="#ff9d1a" stroke-width="1.8" />
<rect x="138.5" y="86.5" width="40.00" height="385.50" fill="#ff9d1a" filter="url(#glow)" opacity="0.9"/>
<rect x="139.2" y="87.2" width="38.60" height="384.10" fill="#ffcc99" stroke="#ff9d1a" stroke-width="1.8" />
<text transform="translate(17.82,466.5) rotate(-90)" font-size="8.1" font-weight="normal" font-style="normal" fill="#1e1509" text-anchor="start" font-family="'Liberation Sans', sans-serif" textLength="10.2" lengthAdjust="spacingAndGlyphs" stroke="#1e1509" stroke-width="0.18">Die</text>
<text transform="translate(17.85,454) rotate(-90)" font-size="9.3" font-weight="bold" font-style="normal" fill="#111" text-anchor="start" font-family="'Liberation Sans', sans-serif" textLength="76.3" lengthAdjust="spacingAndGlyphs">Leipziger Teilung</text>
<text transform="translate(17.82,374.7) rotate(-90)" font-size="8.1" font-weight="normal" font-style="normal" fill="#1e1509" text-anchor="start" font-family="'Liberation Sans', sans-serif" textLength="226.2" lengthAdjust="spacingAndGlyphs" stroke="#1e1509" stroke-width="0.18">der Wettiner Lande in die ernestiner und albertiner Linien (1485)</text>
<text transform="translate(30.99,462.5) rotate(-90)" font-size="8.3" font-weight="bold" font-style="normal" fill="#111" text-anchor="start" font-family="'Liberation Sans', sans-serif" textLength="69.8" lengthAdjust="spacingAndGlyphs">Ernestiner Lande:</text>
<text transform="translate(63.19,462.5) rotate(-90)" font-size="8.3" font-weight="bold" font-style="normal" fill="#111" text-anchor="start" font-family="'Liberation Sans', sans-serif" textLength="69" lengthAdjust="spacingAndGlyphs">Albertiner Lande:</text>
<text transform="translate(94.99,455.5) rotate(-90)" font-size="8.3" font-weight="bold" font-style="normal" fill="#111" text-anchor="start" font-family="'Liberation Sans', sans-serif" textLength="49.5" lengthAdjust="spacingAndGlyphs">Gemeinsam:</text>
<text transform="translate(31.22,387.3) rotate(-90)" font-size="8.1" font-weight="normal" font-style="normal" fill="#1e1509" text-anchor="start" font-family="'Liberation Sans', sans-serif" textLength="289.6" lengthAdjust="spacingAndGlyphs" stroke="#1e1509" stroke-width="0.18">Kurland Sachsen (-Wittenberg), kleine Teile der Mark Meißen, des Osterlandes und</text>
<text transform="translate(39.92,387.3) rotate(-90)" font-size="8.1" font-weight="normal" font-style="normal" fill="#1e1509" text-anchor="start" font-family="'Liberation Sans', sans-serif" textLength="266.7" lengthAdjust="spacingAndGlyphs" stroke="#1e1509" stroke-width="0.18">Pleißenlandes, der größte Teil Thüringens, die Pflege Coburg, das fränkische</text>
<text transform="translate(47.52,387.3) rotate(-90)" font-size="8.1" font-weight="normal" font-style="normal" fill="#1e1509" text-anchor="start" font-family="'Liberation Sans', sans-serif" textLength="287.9" lengthAdjust="spacingAndGlyphs" stroke="#1e1509" stroke-width="0.18">Königsberg, die Schutzherrschaft über das Bistum Naumburg, die Reichsgrafschaft</text>
<text transform="translate(55.72,387.3) rotate(-90)" font-size="8.1" font-weight="normal" font-style="normal" fill="#1e1509" text-anchor="start" font-family="'Liberation Sans', sans-serif" textLength="223.4" lengthAdjust="spacingAndGlyphs" stroke="#1e1509" stroke-width="0.18">von Gleichen, Kirchberg und Reuß sowie zum Teil Schwarzburg.</text>
<text transform="translate(63.72,387.3) rotate(-90)" font-size="8.1" font-weight="normal" font-style="normal" fill="#1e1509" text-anchor="start" font-family="'Liberation Sans', sans-serif" textLength="289.6" lengthAdjust="spacingAndGlyphs" stroke="#1e1509" stroke-width="0.18">Markgrafschaft Meißen, Ämter Leipzig, Delitzsch-Landsberg, Zörbig, Pfalzgrafschaft</text>
<text transform="translate(71.52,387.3) rotate(-90)" font-size="8.1" font-weight="normal" font-style="normal" fill="#1e1509" text-anchor="start" font-family="'Liberation Sans', sans-serif" textLength="279.4" lengthAdjust="spacingAndGlyphs" stroke="#1e1509" stroke-width="0.18">Sachsen, Ämter im nördlichen Thüringen sowie die Schutzherrschaften über das</text>
<text transform="translate(79.22,387.3) rotate(-90)" font-size="8.1" font-weight="normal" font-style="normal" fill="#1e1509" text-anchor="start" font-family="'Liberation Sans', sans-serif" textLength="289.6" lengthAdjust="spacingAndGlyphs" stroke="#1e1509" stroke-width="0.18">Bistum Merseburg, die Reichsgrafen und Herren von Stolberg-Hohnstein, Mansfeld,</text>
<text transform="translate(87.22,387.3) rotate(-90)" font-size="8.1" font-weight="normal" font-style="normal" fill="#1e1509" text-anchor="start" font-family="'Liberation Sans', sans-serif" textLength="193.2" lengthAdjust="spacingAndGlyphs" stroke="#1e1509" stroke-width="0.18">Arnstein, Beichlingen, Leisnig, Querfurt und Schönburg.</text>
<text transform="translate(94.92,387.3) rotate(-90)" font-size="8.1" font-weight="normal" font-style="normal" fill="#1e1509" text-anchor="start" font-family="'Liberation Sans', sans-serif" textLength="292.7" lengthAdjust="spacingAndGlyphs" stroke="#1e1509" stroke-width="0.18">Herrschaft in Schlesien und den Lausitzen sowie die Schutzherrschaften über Erfurt,</text>
<text transform="translate(102.72,387.3) rotate(-90)" font-size="8.1" font-weight="normal" font-style="normal" fill="#1e1509" text-anchor="start" font-family="'Liberation Sans', sans-serif" textLength="208.6" lengthAdjust="spacingAndGlyphs" stroke="#1e1509" stroke-width="0.18">Nordhausen, Mühlhausen, Görlitz und das Hochstift Meißen.</text>
<text transform="translate(148.22,468.3) rotate(-90)" font-size="8.1" font-weight="normal" font-style="normal" fill="#1e1509" text-anchor="start" font-family="'Liberation Sans', sans-serif" textLength="7" lengthAdjust="spacingAndGlyphs" stroke="#1e1509" stroke-width="0.18">Im</text>
<text transform="translate(148.45,459.1) rotate(-90)" font-size="9.3" font-weight="bold" font-style="normal" fill="#111" text-anchor="start" font-family="'Liberation Sans', sans-serif" textLength="107.4" lengthAdjust="spacingAndGlyphs">Schmalkaldischen Krieg</text>
<text transform="translate(148.22,348.2) rotate(-90)" font-size="8.1" font-weight="normal" font-style="normal" fill="#1e1509" text-anchor="start" font-family="'Liberation Sans', sans-serif" textLength="154.2" lengthAdjust="spacingAndGlyphs" stroke="#1e1509" stroke-width="0.18">verloren die Ernestiner das Kurland Sachsen</text>
<text transform="translate(163.12,461.6) rotate(-90)" font-size="8.1" font-weight="normal" font-style="normal" fill="#1e1509" text-anchor="start" font-family="'Liberation Sans', sans-serif" textLength="325.6" lengthAdjust="spacingAndGlyphs" stroke="#1e1509" stroke-width="0.18">Ihnen verblieben nur die Ämter Weimar, Jena, Saalfeld, Weida, Coburg, Gotha und Eisenach.</text>
<text transform="translate(171.22,461.6) rotate(-90)" font-size="8.1" font-weight="normal" font-style="normal" fill="#1e1509" text-anchor="start" font-family="'Liberation Sans', sans-serif" textLength="307.5" lengthAdjust="spacingAndGlyphs" stroke="#1e1509" stroke-width="0.18">1554 erhielten sie noch die Ämter Sachsenburg, Altenburg, Herbstleben und Eisenberg.</text>
<rect x="934.8" y="84" width="18.8" height="393" rx="5.5" fill="#ffcc99" stroke="#b8864f" stroke-width="1.1"/>
<text transform="translate(945.67,440.3) rotate(-90)" font-size="8.8" font-weight="bold" font-style="normal" fill="#111" text-anchor="start" font-family="'Liberation Sans', sans-serif" textLength="259.5" lengthAdjust="spacingAndGlyphs">Ende der Monarchie in Deutschland - Abdankung  der Fürsten</text>
<text transform="translate(946.50,166.2) rotate(-90)" font-size="8.6" font-weight="normal" font-style="italic" fill="#222" text-anchor="start" font-family="'Liberation Sans', sans-serif" textLength="47.5" lengthAdjust="spacingAndGlyphs">(9.-14.11.1918)</text>
</svg></body></html>
